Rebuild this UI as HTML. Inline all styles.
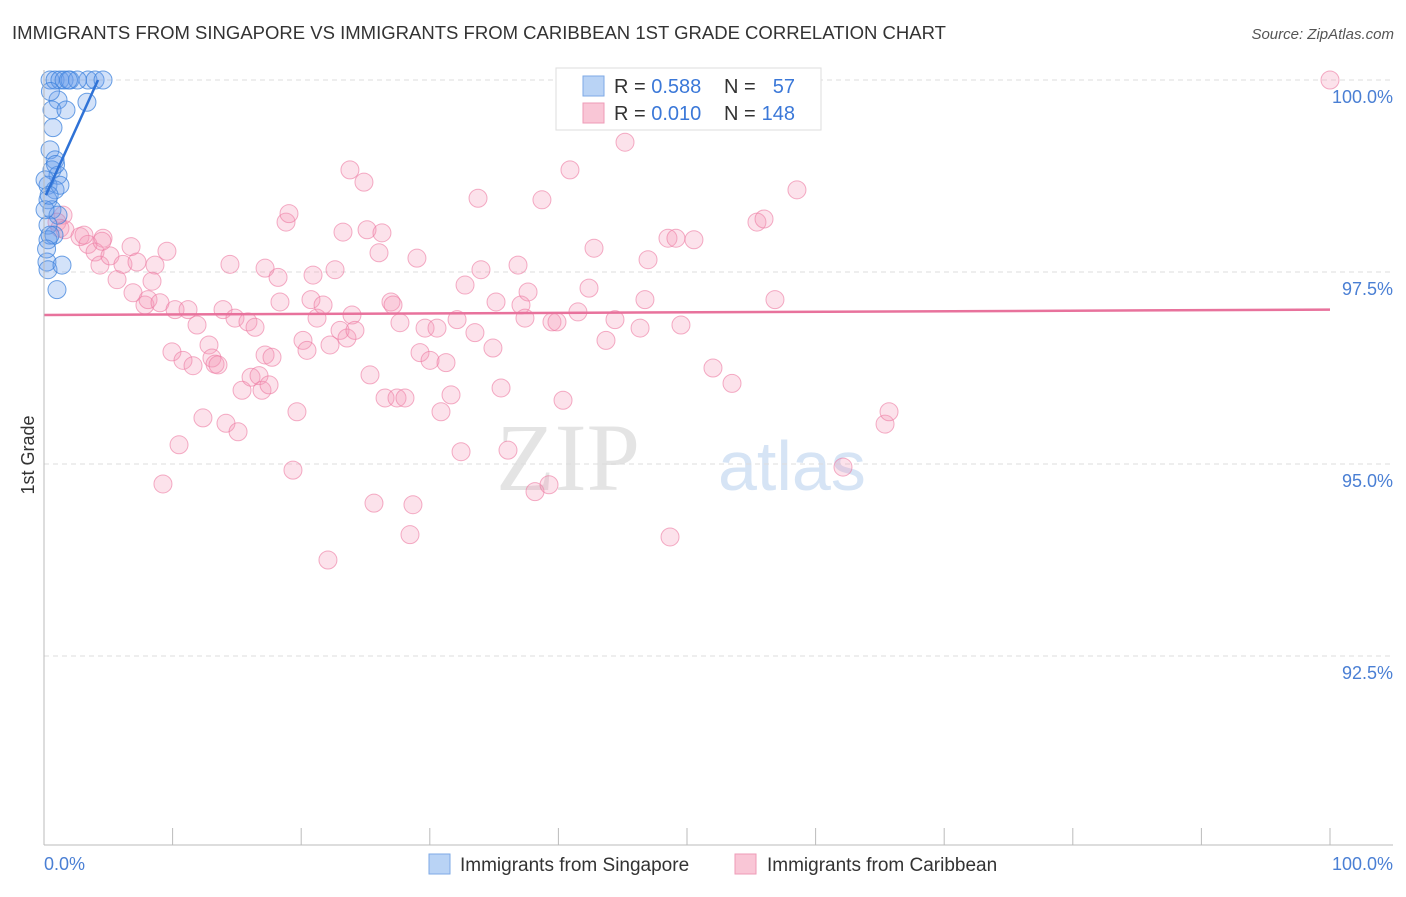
<!DOCTYPE html>
<html><head><meta charset="utf-8"><style>
body{margin:0;background:#fff;font-family:"Liberation Sans",sans-serif;}
svg text{font-family:"Liberation Sans",sans-serif;}
</style></head><body>
<svg id="chart" width="1406" height="892" xmlns="http://www.w3.org/2000/svg">
<text x="12" y="39" font-size="18" fill="#333" textLength="934" lengthAdjust="spacingAndGlyphs">IMMIGRANTS FROM SINGAPORE VS IMMIGRANTS FROM CARIBBEAN 1ST GRADE CORRELATION CHART</text>
<text x="1394" y="39" font-size="15" fill="#555" font-style="italic" text-anchor="end">Source: ZipAtlas.com</text>
<text x="640" y="490" font-size="96" fill="#e4e4e4" text-anchor="end" font-family="Liberation Serif" style="font-family:'Liberation Serif',serif">ZIP</text>
<text x="718" y="490" font-size="70" fill="#d6e4f5">atlas</text>
<g id="grid"></g><g id="pts"></g><g id="trends"></g>
<line x1="44" y1="70" x2="44" y2="845" stroke="#bbb"/>
<line x1="44" y1="845" x2="1393" y2="845" stroke="#bbb"/>
<text transform="translate(34,455) rotate(-90)" font-size="18" fill="#333" text-anchor="middle">1st Grade</text>
<text x="44" y="870" font-size="18" fill="#4a7fd4">0.0%</text>
<text x="1393" y="870" font-size="18" fill="#4a7fd4" text-anchor="end">100.0%</text>
<g>
<rect x="556" y="68" width="265" height="62" fill="#fff" stroke="#ddd"/>
<rect x="583" y="76" width="21" height="20" fill="#b9d3f5" stroke="#7ea9e6"/>
<rect x="583" y="103" width="21" height="20" fill="#f9c6d6" stroke="#ee9bb7"/>
<text x="614" y="93" font-size="20" fill="#333">R = <tspan fill="#3b78d8">0.588</tspan></text>
<text x="724" y="93" font-size="20" fill="#333">N = </text><text x="795" y="93" font-size="20" fill="#3b78d8" text-anchor="end">57</text>
<text x="614" y="120" font-size="20" fill="#333">R = <tspan fill="#3b78d8">0.010</tspan></text>
<text x="724" y="120" font-size="20" fill="#333">N = </text><text x="795" y="120" font-size="20" fill="#3b78d8" text-anchor="end">148</text>
</g>
<g><rect x="429" y="854" width="21" height="20" fill="#b9d3f5" stroke="#7ea9e6"/><text x="460" y="871" font-size="19" fill="#333">Immigrants from Singapore</text></g>
<g><rect x="735" y="854" width="21" height="20" fill="#f9c6d6" stroke="#ee9bb7"/><text x="767" y="871" font-size="19" fill="#333">Immigrants from Caribbean</text></g>
</svg>
<script>
const yTicks=[100,97.5,95,92.5];
const yTickLabels=["100.0%","97.5%","95.0%","92.5%"];
const xTicks=[0,10,20,30,40,50,60,70,80,90,100];
const pinkX=[1.48,1.01,1.24,1.63,2.80,3.42,4.59,3.97,4.35,5.13,5.68,6.14,6.77,7.23,6.92,7.85,8.09,8.63,8.40,9.02,9.56,9.95,10.19,10.50,9.25,10.81,11.20,11.59,11.90,12.36,12.83,13.06,13.30,13.53,13.92,14.15,14.46,14.85,15.09,15.40,15.86,16.10,16.41,16.72,16.95,17.19,17.50,17.19,17.73,18.20,18.35,18.82,19.05,19.36,19.67,20.14,20.45,20.76,20.92,21.23,21.70,22.08,22.24,22.63,23.02,23.25,23.56,23.79,23.95,24.18,24.88,25.12,25.35,25.66,26.05,26.28,26.52,26.98,27.14,27.45,27.68,28.07,28.46,28.69,29.00,29.24,29.63,30.02,30.56,30.87,31.26,31.65,32.12,32.43,32.74,33.51,33.75,33.98,34.91,35.15,35.54,36.08,36.86,37.09,37.40,37.64,38.18,38.72,39.27,39.50,39.89,40.36,40.90,41.52,42.38,42.77,43.70,44.40,45.18,46.35,46.73,46.97,48.52,49.14,49.53,50.54,52.02,52.33,53.50,55.44,55.99,56.84,58.55,62.13,65.40,65.71,100,48.68,3.11,4.51];
const pinkY=[98.24,98.15,98.07,98.05,97.96,97.86,97.94,97.76,97.59,97.71,97.40,97.60,97.83,97.63,97.23,97.07,97.14,97.59,97.38,97.10,97.77,96.46,97.01,95.25,94.74,96.35,97.01,96.28,96.81,95.60,96.55,96.38,96.30,96.29,97.01,95.53,97.60,96.90,95.42,95.96,96.85,96.13,96.78,96.15,95.96,97.55,96.03,96.42,96.39,97.43,97.11,98.15,98.26,94.92,95.68,96.61,96.48,97.14,97.46,96.90,97.07,93.75,96.55,97.53,96.74,98.02,96.64,98.83,96.94,96.74,98.67,98.05,96.16,94.49,97.75,98.01,95.86,97.11,97.07,95.86,96.84,95.86,94.08,94.47,97.68,96.45,96.77,96.35,96.77,95.68,96.32,95.90,96.88,95.16,97.33,96.71,98.46,97.53,96.51,97.11,95.99,95.18,97.59,97.07,96.90,97.24,94.64,98.44,94.73,96.85,96.85,95.83,98.83,96.98,97.29,97.81,96.61,96.88,99.19,96.77,97.14,97.66,97.94,97.94,96.81,97.92,96.25,100,96.05,98.15,98.19,97.14,98.57,94.96,95.52,95.68,100,94.05,97.98,97.90];
const blueX=[0.47,0.86,1.24,1.56,2.02,3.42,3.97,4.59,1.09,0.62,1.71,3.34,0.70,0.47,0.86,0.62,1.09,0.31,0.86,1.24,0.31,0.62,1.09,0.31,0.78,0.31,0.23,0.31,1.40,1.01,0.47,0.08,0.08,0.5,0.4,0.9,0.2,2.6,1.9];
const blueY=[100,100,100,100,100,100,100,100,99.74,99.61,99.61,99.71,99.38,99.09,98.96,98.83,98.76,98.63,98.57,98.63,98.44,98.31,98.24,98.11,97.98,97.92,97.63,97.53,97.59,97.27,97.98,98.70,98.31,99.85,98.5,98.9,97.8,100,100];
const pinkTrendX=[0,100], pinkTrendY=[96.94,97.01];
const blueTrendX=[0.15,4.2], blueTrendY=[98.5,100];
const X=v=>44+v*12.86, Y=v=>80+(100-v)*76.8;
const NS="http://www.w3.org/2000/svg";
function mk(t,a,p){const e=document.createElementNS(NS,t);for(const k in a)e.setAttribute(k,a[k]);p.appendChild(e);return e;}
const grid=document.getElementById('grid');
yTicks.forEach((t,i)=>{
 const l=mk('line',{x1:44,x2:1393,y1:Y(t),y2:Y(t),stroke:'#ddd','stroke-dasharray':'5,4'},grid);
 
 
 const tx=mk('text',{x:1393,y:Y(t)+23,'font-size':18,fill:'#4a7fd4','text-anchor':'end'},grid);
 tx.textContent=yTickLabels[i];
 
 
});
xTicks.forEach(t=>{
 const l=mk('line',{x1:X(t),x2:X(t),y1:828,y2:845,stroke:'#bbb'},grid);
 
 
});
const pts=document.getElementById('pts');
pinkX.forEach((x,i)=>{
 const c=mk('circle',{cx:X(x),cy:Y(pinkY[i]),r:9,fill:'rgba(244,150,182,0.28)',stroke:'rgba(236,120,160,0.6)','stroke-width':1},pts);
 
 
});
blueX.forEach((x,i)=>{
 const c=mk('circle',{cx:X(x),cy:Y(blueY[i]),r:9,fill:'rgba(110,160,235,0.3)',stroke:'rgba(60,130,220,0.75)','stroke-width':1},pts);
 
 
});
const tr=document.getElementById('trends');
const pl=mk('line',{x1:X(pinkTrendX[0]),y1:Y(pinkTrendY[0]),x2:X(pinkTrendX[1]),y2:Y(pinkTrendY[1]),stroke:'#e8729c','stroke-width':2.5},tr);


const bl=mk('line',{x1:X(blueTrendX[0]),y1:Y(blueTrendY[0]),x2:X(blueTrendX[1]),y2:Y(blueTrendY[1]),stroke:'#2f72d6','stroke-width':2.5},tr);


</script>
</body></html>
